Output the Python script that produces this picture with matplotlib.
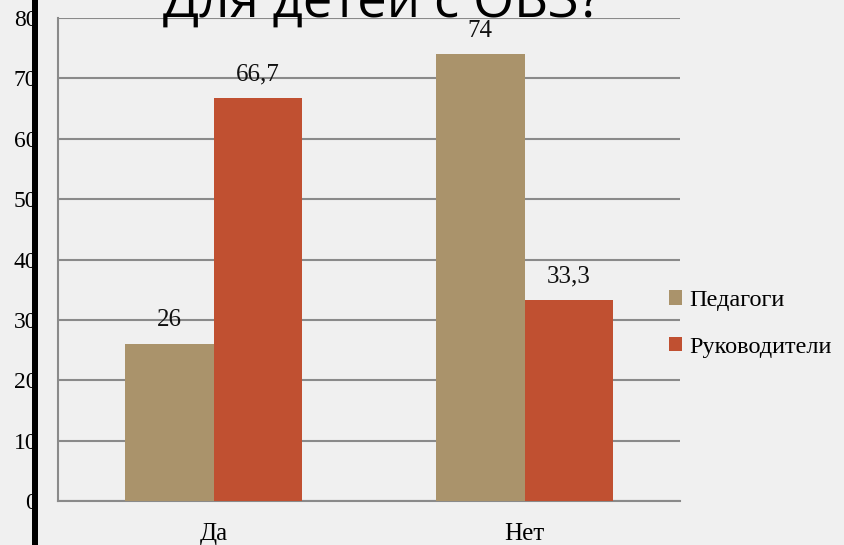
import matplotlib
matplotlib.use("Agg")
import matplotlib.pyplot as plt
from matplotlib.patches import Rectangle
import numpy as np

categories = ["Да", "Нет"]
series_names = ["Педагоги", "Руководители"]
pedagogi = [26, 74]
rukovoditeli = [66.7, 33.3]
value_labels = [["26", "74"], ["66,7", "33,3"]]
yticks = [0, 10, 20, 30, 40, 50, 60, 70, 80]
title_text = "Для детей с ОВЗ?"

colors = ["#AA936B", "#C05031"]
bg = "#F0F0F0"
W, H = 844, 545

fig = plt.figure(figsize=(W / 100, H / 100), dpi=100)
fig.patch.set_facecolor(bg)
ax = fig.add_axes([58 / W, 1 - 501 / H, (680 - 58) / W, (501 - 18) / H])
ax.set_facecolor(bg)

x = np.arange(len(categories))
bw = 0.284
series = [pedagogi, rukovoditeli]
for i, (vals, c, name) in enumerate(zip(series, colors, series_names)):
    pos = x + (i - 0.5) * bw
    ax.bar(pos, vals, width=bw, color=c, label=name, zorder=3)
    for p, v, lab in zip(pos, vals, value_labels[i]):
        ax.annotate(lab, (p, v), xytext=(0, 17), textcoords="offset points",
                    ha="center", va="center", fontsize=18,
                    family="Liberation Serif", color="#111111", zorder=4)

ax.set_xlim(-0.5, 1.5)
ax.set_ylim(0, 80)
ax.set_yticks(yticks)
ax.set_yticklabels([str(t) for t in yticks], family="Liberation Serif", fontsize=17)
ax.set_xticks(x)
ax.set_xticklabels(categories, family="Liberation Serif", fontsize=18)
ax.tick_params(axis="y", length=0, pad=15)
ax.tick_params(axis="x", length=0, pad=16)
ax.yaxis.grid(True, color="#8A8A8A", linewidth=1.5, zorder=0)
ax.set_axisbelow(True)
for s in ["top", "right"]:
    ax.spines[s].set_visible(False)
for s in ["left", "bottom"]:
    ax.spines[s].set_color("#8A8A8A")
    ax.spines[s].set_linewidth(1.5)

leg = fig.legend(loc="center left", bbox_to_anchor=(669 / W, 1 - 324 / H),
                 frameon=False, prop={"family": "Liberation Serif", "size": 17.5},
                 handlelength=0.55, handleheight=0.55, handletextpad=0.3,
                 labelspacing=1.05, borderpad=0, borderaxespad=0)

fig.text(382 / W, 1 - 17 / H, title_text, ha="center", va="baseline",
         fontsize=38, family="Open Sans", color="#000000")

fig.patches.append(Rectangle((32 / W, 0), 6 / W, 1, transform=fig.transFigure,
                             facecolor="black", edgecolor="none", zorder=10))

fig.savefig("out.png", dpi=100, facecolor=bg)
